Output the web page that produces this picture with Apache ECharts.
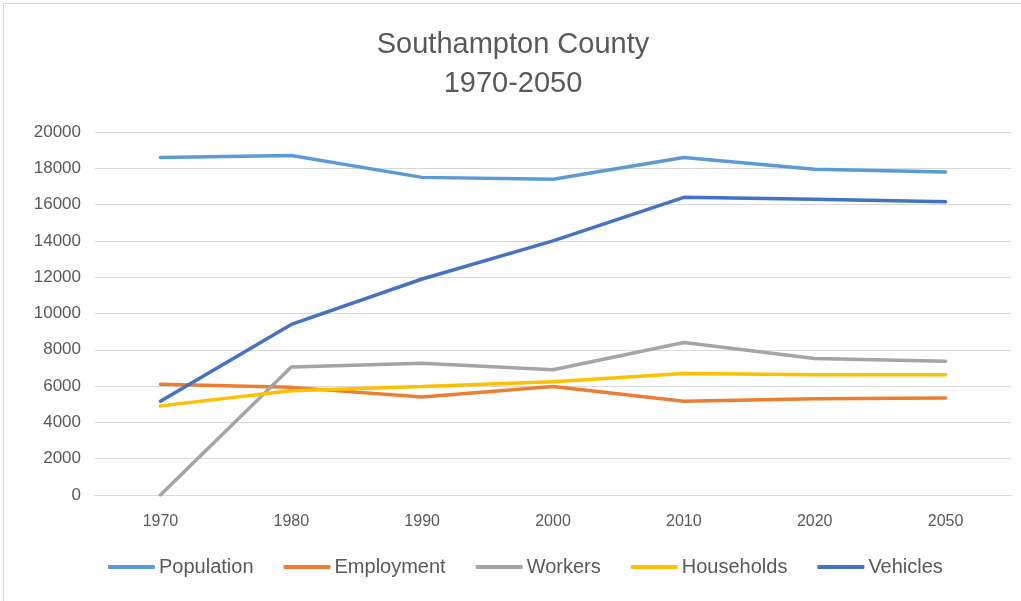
<!DOCTYPE html>
<html>
<head>
<meta charset="utf-8">
<script src="https://cdn.jsdelivr.net/npm/echarts@6/dist/echarts.min.js"></script>
<style>
  html, body { margin: 0; padding: 0; background: #fff; }
  #main { position: absolute; left: 3px; top: 3px; width: 1020px; height: 600px; border: 1px solid #d9d9d9; box-sizing: border-box; }
</style>
</head>
<body>
<div id="main"></div>
<script>
// categories on the x axis
const years = ['1970', '1980', '1990', '2000', '2010', '2020', '2050'];

// series values
const population = [18600, 18700, 17500, 17400, 18600, 17950, 17800];
const employment = [6100, 5930, 5400, 5980, 5170, 5300, 5340];
const workers = [0, 7050, 7260, 6900, 8400, 7520, 7370];
const households = [4910, 5740, 5980, 6240, 6700, 6630, 6630];
const vehicles = [5170, 9400, 11900, 14000, 16400, 16290, 16160];

const seriesNames = ['Population', 'Employment', 'Workers', 'Households', 'Vehicles'];
const seriesColors = ['#5B9BD5', '#ED7D31', '#A5A5A5', '#FFC000', '#4472C4'];
const seriesData = [population, employment, workers, households, vehicles];

const font = 'Liberation Sans, Arial, sans-serif';

var myChart = echarts.init(document.getElementById('main'));

var series = seriesNames.map((name, i) => ({
  name: name,
  type: 'line',
  data: seriesData[i],
  symbol: 'none',
  lineStyle: { width: 3.5, color: seriesColors[i], cap: 'round' },
  itemStyle: { color: seriesColors[i] }
}));

var option = {
  animation: false,
  title: {
    text: 'Southampton County\n1970-2050',
    left: 'center',
    top: 16,
    textStyle: {
      fontFamily: font,
      fontWeight: 'normal',
      fontSize: 29,
      lineHeight: 39,
      color: '#595959'
    }
  },
  legend: {
    bottom: 20,
    left: 99,
    itemWidth: 47,
    itemHeight: 4,
    itemGap: 30,
    icon: 'roundRect',
    textStyle: { fontFamily: font, fontSize: 20, color: '#595959', padding: [0, 0, 0, -1] },
    data: seriesNames
  },
  grid: {
    left: 91,
    right: 11,
    top: 128,
    bottom: 107
  },
  xAxis: {
    type: 'category',
    data: years,
    boundaryGap: true,
    axisLine: { lineStyle: { color: '#d9d9d9' } },
    axisTick: { show: false },
    axisLabel: { fontFamily: font, fontSize: 16, color: '#595959', margin: 19 }
  },
  yAxis: {
    type: 'value',
    min: 0,
    max: 20000,
    interval: 2000,
    axisLine: { show: false },
    axisTick: { show: false },
    splitLine: { lineStyle: { color: '#d9d9d9', width: 1 } },
    axisLabel: {
      fontFamily: font, fontSize: 17, color: '#595959', margin: 14,
      formatter: v => String(v)
    }
  },
  series: series
};

myChart.setOption(option);
</script>
</body>
</html>
